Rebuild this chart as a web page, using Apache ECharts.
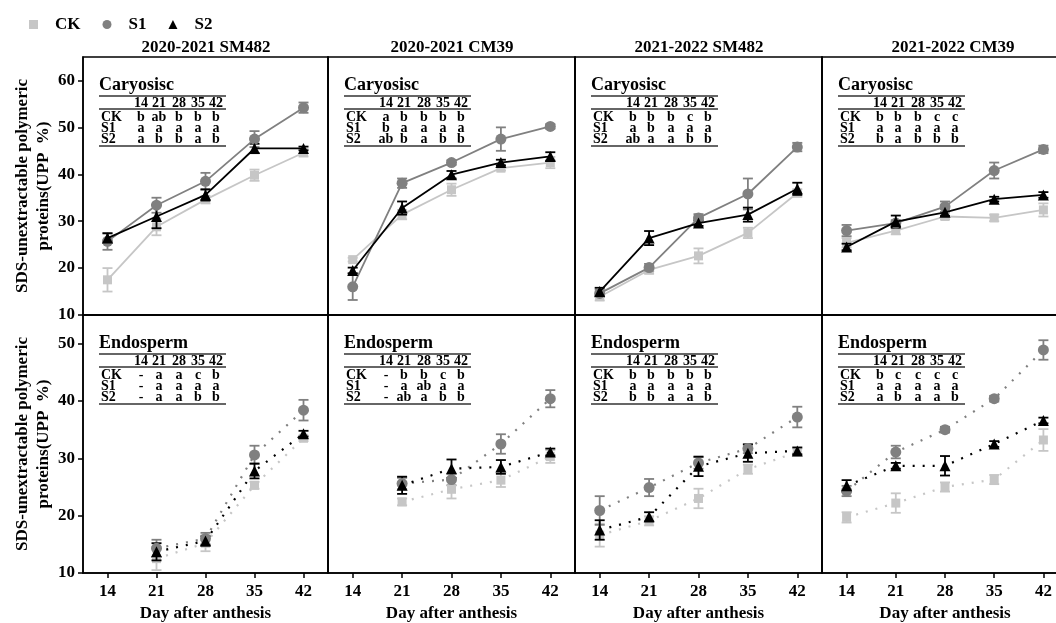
<!DOCTYPE html>
<html>
<head>
<meta charset="utf-8">
<script src="https://cdn.jsdelivr.net/npm/echarts@6/dist/echarts.min.js"></script>
<style>
html, body { margin: 0; padding: 0; background: #fff; overflow: hidden; }
#chart { width: 1070px; height: 623px; }
</style>
</head>
<body>
<div id="chart"></div>
<script>
const days = ['14', '21', '28', '35', '42'];
const panelTitles = ['2020-2021 SM482', '2020-2021 CM39', '2021-2022 SM482', '2021-2022 CM39'];
const seriesNames = ['CK', 'S1', 'S2'];
const rowNames = ['Caryosisc', 'Endosperm'];

// Caryosisc (top row): one inner array per panel, values at 14..42 days
const caryCK = [
    [17.5, 28.8, 34.6, 39.8, 44.6],
    [21.8, 31.4, 36.7, 41.3, 42.5],
    [13.9, 19.6, 22.6, 27.5, 36.0],
    [25.4, 28.0, 31.0, 30.7, 32.4],
];
const caryS1 = [
    [25.7, 33.4, 38.5, 47.5, 54.2],
    [16.0, 38.1, 42.5, 47.5, 50.2],
    [14.6, 20.1, 30.7, 35.8, 45.8],
    [28.0, 29.6, 33.1, 40.8, 45.3],
];
const caryS2 = [
    [26.4, 31.0, 35.6, 45.5, 45.5],
    [19.5, 32.8, 39.9, 42.5, 43.8],
    [15.0, 26.4, 29.6, 31.4, 36.9],
    [24.5, 29.9, 31.9, 34.7, 35.6],
];
const caryErrCK = [
    [2.5, 1.8, 0.8, 1.2, 0.8],
    [0.4, 1.0, 1.3, 0.5, 1.2],
    [0.8, 0.8, 1.6, 1.1, 0.8],
    [1.0, 0.8, 0.6, 0.7, 1.4],
];
const caryErrS1 = [
    [1.8, 1.6, 1.8, 1.7, 1.1],
    [2.8, 1.0, 0.5, 2.5, 0.5],
    [0.8, 0.8, 0.8, 3.3, 0.9],
    [1.2, 0.6, 1.1, 1.7, 0.8],
];
const caryErrS2 = [
    [1.0, 2.5, 1.2, 1.0, 0.4],
    [0.6, 1.4, 0.8, 0.6, 0.9],
    [0.8, 1.5, 0.6, 1.5, 1.3],
    [0.7, 1.3, 0.8, 0.5, 0.6],
];

// Endosperm (bottom row)
const endoCK = [
    [null, 12.5, 15.2, 25.3, 33.5],
    [null, 22.4, 24.6, 26.2, 30.3],
    [16.6, 19.1, 23.0, 28.1, 31.1],
    [19.7, 22.2, 25.0, 26.3, 33.2],
];
const endoS1 = [
    [null, 14.3, 16.0, 30.6, 38.4],
    [null, 25.6, 26.3, 32.5, 40.4],
    [20.9, 24.9, 29.2, 31.7, 37.2],
    [24.3, 31.1, 35.0, 40.4, 48.9],
];
const endoS2 = [
    [null, 13.7, 15.6, 27.8, 34.3],
    [null, 25.3, 28.2, 28.5, 31.1],
    [17.5, 19.8, 28.6, 30.9, 31.3],
    [25.2, 28.7, 28.7, 32.5, 36.6],
];
const endoErrCK = [
    [null, 2.0, 1.4, 0.6, 0.5],
    [null, 0.6, 1.6, 1.2, 1.1],
    [2.0, 0.8, 1.7, 0.8, 0.6],
    [0.9, 1.7, 0.8, 0.8, 1.9],
];
const endoErrS1 = [
    [null, 1.5, 1.0, 1.6, 1.8],
    [null, 1.0, 1.0, 1.7, 1.5],
    [2.5, 1.5, 1.0, 0.8, 1.8],
    [0.9, 1.1, 0.5, 0.5, 1.7],
];
const endoErrS2 = [
    [null, 1.5, 0.8, 1.3, 0.5],
    [null, 1.5, 1.6, 1.2, 0.6],
    [1.7, 0.8, 1.7, 1.5, 0.6],
    [1.0, 0.5, 1.7, 0.5, 0.5],
];

// significance letters printed in the small tables
const caryLetters = [
    [['b', 'ab', 'b', 'b', 'b'], ['a', 'a', 'a', 'a', 'a'], ['a', 'b', 'b', 'a', 'b']],
    [['a', 'b', 'b', 'b', 'b'], ['b', 'a', 'a', 'a', 'a'], ['ab', 'b', 'a', 'b', 'b']],
    [['b', 'b', 'b', 'c', 'b'], ['a', 'b', 'a', 'a', 'a'], ['ab', 'a', 'a', 'b', 'b']],
    [['b', 'b', 'b', 'c', 'c'], ['a', 'a', 'a', 'a', 'a'], ['b', 'a', 'b', 'b', 'b']],
];
const endoLetters = [
    [['-', 'a', 'a', 'c', 'b'], ['-', 'a', 'a', 'a', 'a'], ['-', 'a', 'a', 'b', 'b']],
    [['-', 'b', 'b', 'c', 'b'], ['-', 'a', 'ab', 'a', 'a'], ['-', 'ab', 'a', 'b', 'b']],
    [['b', 'b', 'b', 'b', 'b'], ['a', 'a', 'a', 'a', 'a'], ['b', 'b', 'a', 'a', 'b']],
    [['b', 'c', 'c', 'c', 'c'], ['a', 'a', 'a', 'a', 'a'], ['a', 'b', 'a', 'a', 'b']],
];

const colors = ['#c6c6c6', '#808080', '#000000'];
const symbols = ['rect', 'circle', 'triangle'];
const symbolSizes = [9, 11, 11];
const font = '"Liberation Serif", "Times New Roman", serif';

const gridLefts = [83, 328, 575, 822];
const gridWidths = [245, 247, 247, 246];
const gridTops = [57, 315];
const gridHeight = 258;
const titleCenters = [206, 452, 699, 953];

const means = [[caryCK, caryS1, caryS2], [endoCK, endoS1, endoS2]];
const errs = [[caryErrCK, caryErrS1, caryErrS2], [endoErrCK, endoErrS1, endoErrS2]];
const letters = [caryLetters, endoLetters];

const grids = [], xAxes = [], yAxes = [], series = [], graphics = [];

for (let r = 0; r < 2; r++) {
    for (let c = 0; c < 4; c++) {
        const idx = r * 4 + c;
        const bottomRow = r === 1;
        const leftCol = c === 0;
        grids.push({
            left: gridLefts[c], top: gridTops[r], width: gridWidths[c], height: gridHeight,
            show: true, borderColor: '#000', borderWidth: 1.5, backgroundColor: 'transparent',
        });
        xAxes.push({
            type: 'category', gridIndex: idx, data: days, boundaryGap: true,
            axisLine: { show: true, lineStyle: { color: '#000', width: 1.5 } },
            axisTick: { show: bottomRow, alignWithLabel: true, length: 5, lineStyle: { color: '#000', width: 1.5 } },
            axisLabel: { show: bottomRow, margin: 10, color: '#000', fontFamily: font, fontWeight: 'bold', fontSize: 17 },
            name: bottomRow ? 'Day after anthesis' : '',
            nameLocation: 'middle', nameGap: 32,
            nameTextStyle: { color: '#000', fontFamily: font, fontWeight: 'bold', fontSize: 17 },
            splitLine: { show: false },
        });
        const ticks = r === 0 ? [10, 20, 30, 40, 50, 60] : [10, 20, 30, 40, 50];
        yAxes.push({
            type: 'value', gridIndex: idx, min: 10, max: r === 0 ? 65 : 55,
            axisLine: { show: true, lineStyle: { color: '#000', width: 1.5 } },
            axisTick: { show: leftCol, length: 5, customValues: ticks, lineStyle: { color: '#000', width: 1.5 } },
            axisLabel: { show: leftCol, customValues: ticks, margin: 8, color: '#000', fontFamily: font, fontWeight: 'bold', fontSize: 17 },
            splitLine: { show: false },
            name: leftCol ? 'SDS-unextractable polymeric\nproteins(UPP  %)' : '',
            nameLocation: 'middle', nameRotate: 90, nameGap: 29,
            nameTextStyle: { color: '#000', fontFamily: font, fontWeight: 'bold', fontSize: 17, lineHeight: 21 },
        });

        for (let s = 0; s < 3; s++) {
            const m = means[r][s][c];
            const e = errs[r][s][c];
            series.push({
                name: seriesNames[s], type: 'line', xAxisIndex: idx, yAxisIndex: idx,
                data: m, symbol: symbols[s], symbolSize: symbolSizes[s], z: 3 + s,
                itemStyle: { color: colors[s] },
                lineStyle: { color: colors[s], width: bottomRow ? 2.2 : 1.8, type: bottomRow ? [2, 8] : 'solid' },
                connectNulls: false,
            });
            const errData = [];
            m.forEach((v, j) => { if (v != null) errData.push([j, v - e[j], v + e[j]]); });
            const col = colors[s];
            series.push({
                name: seriesNames[s], type: 'custom', xAxisIndex: idx, yAxisIndex: idx,
                data: errData, encode: { x: 0, y: [1, 2] }, z: 2 + s,
                renderItem: (params, api) => {
                    const x = api.value(0);
                    const lo = api.coord([x, api.value(1)]);
                    const hi = api.coord([x, api.value(2)]);
                    const w = 5;
                    const st = { stroke: col, lineWidth: 1.8 };
                    return {
                        type: 'group', children: [
                            { type: 'line', shape: { x1: lo[0], y1: lo[1], x2: hi[0], y2: hi[1] }, style: st },
                            { type: 'line', shape: { x1: lo[0] - w, y1: lo[1], x2: lo[0] + w, y2: lo[1] }, style: st },
                            { type: 'line', shape: { x1: hi[0] - w, y1: hi[1], x2: hi[0] + w, y2: hi[1] }, style: st },
                        ],
                    };
                },
            });
        }

        // small significance table in the top-left corner
        const tl = gridLefts[c] + 16;
        const tt = gridTops[r];
        const lineStyle = { stroke: '#333', lineWidth: 1.5 };
        const txt = (x, y, t, size, align) => ({
            type: 'text', x, y, silent: true,
            style: { text: t, fill: '#000', font: `bold ${size}px ${font}`, align: align || 'center', verticalAlign: 'middle' },
        });
        graphics.push(txt(tl, tt + 28, rowNames[r], 18, 'left'));
        graphics.push({ type: 'line', silent: true, shape: { x1: tl, y1: tt + 39, x2: tl + 127, y2: tt + 39 }, style: lineStyle });
        graphics.push({ type: 'line', silent: true, shape: { x1: tl, y1: tt + 52, x2: tl + 127, y2: tt + 52 }, style: lineStyle });
        graphics.push({ type: 'line', silent: true, shape: { x1: tl, y1: tt + 89, x2: tl + 127, y2: tt + 89 }, style: lineStyle });
        const colX = [42, 60, 80, 99, 117];
        days.forEach((d, j) => graphics.push(txt(tl + colX[j], tt + 46, d, 14)));
        const rowY = [60, 71, 82];
        for (let s = 0; s < 3; s++) {
            graphics.push(txt(tl + 2, tt + rowY[s], seriesNames[s], 14, 'left'));
            letters[r][c][s].forEach((l, j) => graphics.push(txt(tl + colX[j], tt + rowY[s], l, 14)));
        }
    }
}

const titles = panelTitles.map((t, c) => ({
    text: t, left: titleCenters[c], top: 39, textAlign: 'center', padding: 0,
    textStyle: { color: '#000', fontFamily: font, fontWeight: 'bold', fontSize: 17 },
}));

const chart = echarts.init(document.getElementById('chart'));
chart.setOption({
    animation: false,
    backgroundColor: '#fff',
    title: titles,
    legend: {
        left: 24, top: 11, itemWidth: 9, itemHeight: 9, itemGap: 22,
        data: [
            { name: 'CK', icon: 'rect' },
            { name: 'S1', icon: 'circle' },
            { name: 'S2', icon: 'triangle' },
        ],
        textStyle: { color: '#000', fontFamily: font, fontWeight: 'bold', fontSize: 17, padding: [0, 0, 0, 12] },
    },
    grid: grids,
    xAxis: xAxes,
    yAxis: yAxes,
    series: series,
    graphic: graphics,
});
</script>
</body>
</html>
